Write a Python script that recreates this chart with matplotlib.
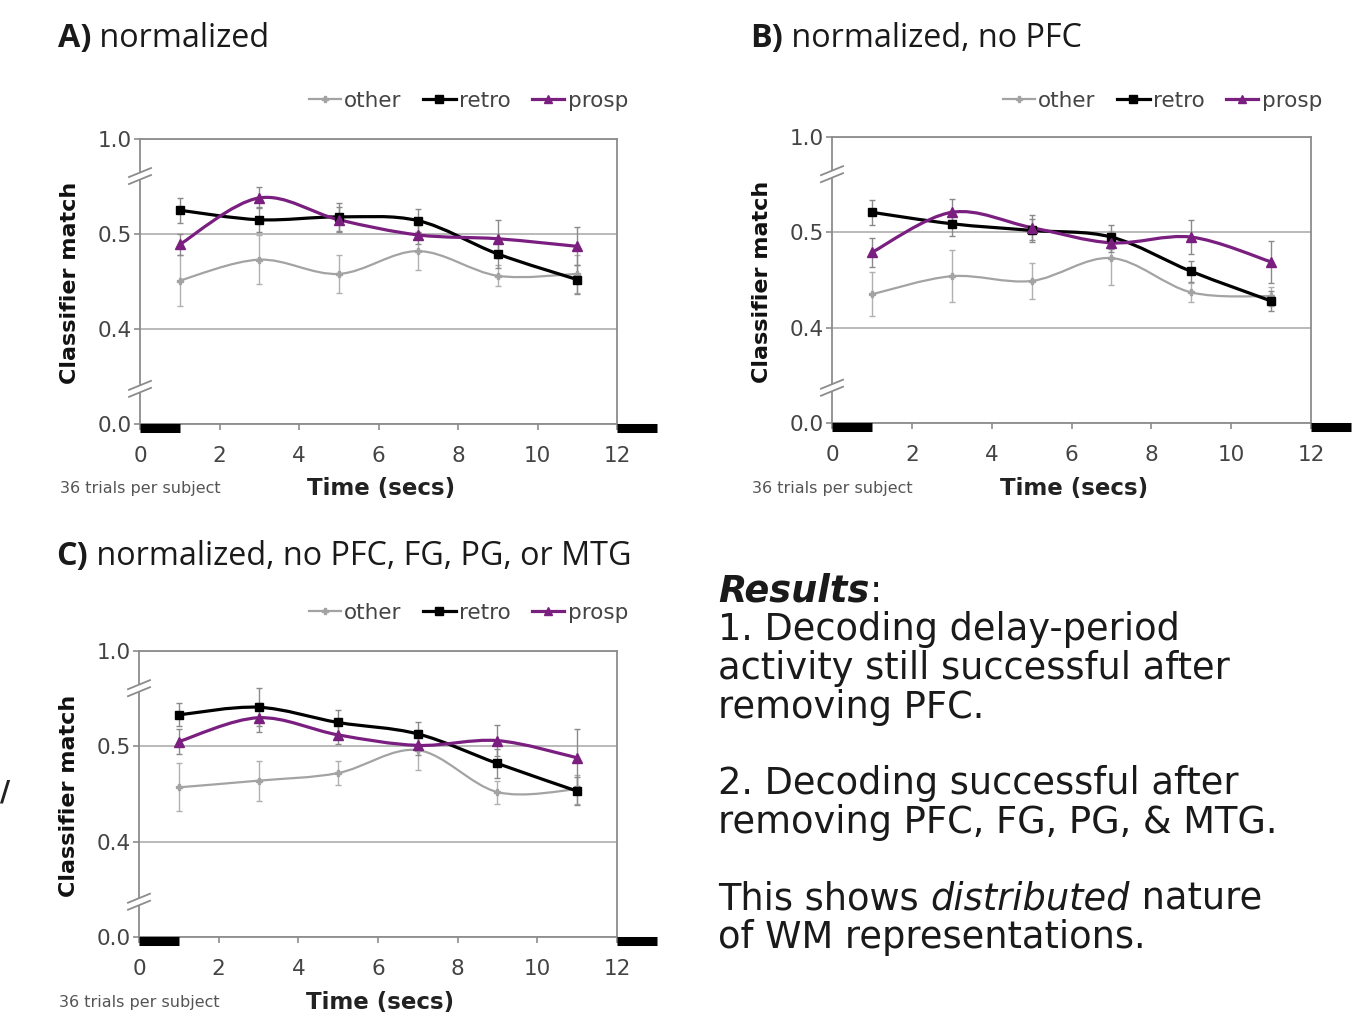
import numpy as np
import matplotlib
matplotlib.use("Agg")
import matplotlib.pyplot as plt
from matplotlib.path import Path
from matplotlib.patches import PathPatch, Polygon
from matplotlib.lines import Line2D

# ---------------- data ----------------
time_points = [1, 3, 5, 7, 9, 11]
series_names = ["other", "retro", "prosp"]

a_other = [0.451, 0.473, 0.458, 0.482, 0.456, 0.458]
a_other_err = [0.027, 0.026, 0.020, 0.020, 0.011, 0.020]
a_retro = [0.525, 0.515, 0.518, 0.514, 0.479, 0.452]
a_retro_err = [0.013, 0.013, 0.015, 0.012, 0.015, 0.015]
a_prosp = [0.489, 0.538, 0.515, 0.499, 0.495, 0.487]
a_prosp_err = [0.011, 0.011, 0.013, 0.010, 0.020, 0.020]

b_other = [0.435, 0.454, 0.449, 0.473, 0.437, 0.433]
b_other_err = [0.023, 0.027, 0.019, 0.028, 0.010, 0.010]
b_retro = [0.521, 0.509, 0.502, 0.495, 0.459, 0.428]
b_retro_err = [0.013, 0.013, 0.012, 0.013, 0.011, 0.010]
b_prosp = [0.479, 0.521, 0.505, 0.489, 0.495, 0.469]
b_prosp_err = [0.015, 0.014, 0.013, 0.010, 0.018, 0.022]

c_other = [0.457, 0.464, 0.472, 0.496, 0.452, 0.455]
c_other_err = [0.025, 0.021, 0.013, 0.021, 0.012, 0.015]
c_retro = [0.533, 0.541, 0.525, 0.513, 0.482, 0.453]
c_retro_err = [0.012, 0.020, 0.013, 0.012, 0.015, 0.015]
c_prosp = [0.505, 0.530, 0.512, 0.501, 0.506, 0.488]
c_prosp_err = [0.013, 0.015, 0.010, 0.010, 0.016, 0.030]

x_ticks = [0, 2, 4, 6, 8, 10, 12]
y_tick_pos = [0.3, 0.4, 0.5, 0.6]          # broken axis: bottom/top segments compressed
y_tick_labels = ["0.0", "0.4", "0.5", "1.0"]
y_breaks = [0.561, 0.337]
stim_bars = [(0, 1), (12, 13)]

panel_titles = [("A)", " normalized"),
                ("B)", " normalized, no PFC"),
                ("C)", " normalized, no PFC, FG, PG, or MTG")]

# ---------------- style ----------------
W, H = 1354, 1013
COL = {"other": "#a3a3a3", "retro": "#000000", "prosp": "#7a1f80"}
ERRC = {"other": "#b0b0b0", "retro": "#8a8a8a", "prosp": "#8a8a8a"}
MARK = {"other": "P", "retro": "s", "prosp": "^"}
MS = {"other": 4.5, "retro": 6.0, "prosp": 6.5}
LW = {"other": 1.6, "retro": 2.3, "prosp": 2.3}
TXT = "#444444"
TITLE_FONT = "Open Sans"
BODY_FONT = "DejaVu Sans"

fig = plt.figure(figsize=(W / 100, H / 100), dpi=100)
fig.patch.set_facecolor("white")


def px_axes(left, top, right, bottom):
    return fig.add_axes([left / W, 1 - bottom / H, (right - left) / W, (bottom - top) / H])


def smooth_path(xs, ys):
    """Catmull-Rom curve through the points expressed as cubic Bezier segments."""
    pts = np.column_stack([xs, ys]).astype(float)
    n = len(pts)
    verts = [pts[0]]
    codes = [Path.MOVETO]
    for i in range(n - 1):
        p0 = pts[i - 1] if i > 0 else pts[i]
        p1 = pts[i]
        p2 = pts[i + 1]
        p3 = pts[i + 2] if i + 2 < n else pts[i + 1]
        c1 = p1 + (p2 - p0) / 6.0
        c2 = p2 - (p3 - p1) / 6.0
        verts += [c1, c2, p2]
        codes += [Path.CURVE4] * 3
    return Path(verts, codes)


def draw_panel(ax, series, legend_offset_px, height_px):
    ax.set_xlim(0, 12)
    ax.set_ylim(0.3, 0.6)
    for sp in ax.spines.values():
        sp.set_color("#8c8c8c")
        sp.set_linewidth(1.3)
    ax.set_xticks(x_ticks)
    ax.set_yticks(y_tick_pos)
    ax.set_yticklabels(y_tick_labels)
    ax.tick_params(axis="x", direction="out", length=4, width=1.2, color="#8c8c8c",
                   labelsize=15.5, labelcolor=TXT, pad=12)
    ax.tick_params(axis="y", direction="out", length=4, width=1.2, color="#8c8c8c",
                   labelsize=15.5, labelcolor=TXT, pad=2)
    ax.grid(axis="y", color="#b4b4b4", linewidth=1.3)
    ax.set_axisbelow(True)

    for name in series_names:
        ys, es = series[name]
        ax.errorbar(time_points, ys, yerr=es, fmt="none", ecolor=ERRC[name],
                    elinewidth=1.0, capsize=2.5, capthick=1.0, zorder=3)
        ax.add_patch(PathPatch(smooth_path(time_points, ys), facecolor="none",
                               edgecolor=COL[name], linewidth=LW[name], zorder=4))
        ax.plot(time_points, ys, linestyle="none", marker=MARK[name], ms=MS[name],
                color=COL[name], mec=COL[name], zorder=5)

    # stimulus bars on the time axis
    for x0, x1 in stim_bars:
        ax.plot([x0, x1], [0.3 - 0.0045, 0.3 - 0.0045], color="black", lw=6.5,
                solid_capstyle="butt", clip_on=False, zorder=6)

    # axis break marks on the left spine
    ux = 12 / 477.0
    uy = 0.1 / 95.0
    for yb in y_breaks:
        dx, rise, gap = 11 * ux, 4.5 * uy, 3.5 * uy
        poly = Polygon([(-dx, yb - gap - rise), (dx, yb - gap + rise),
                        (dx, yb + gap + rise), (-dx, yb + gap - rise)],
                       closed=True, facecolor="white", edgecolor="none",
                       clip_on=False, zorder=6)
        ax.add_patch(poly)
        for s in (-gap, gap):
            ax.plot([-dx, dx], [yb + s - rise, yb + s + rise], color="#8c8c8c",
                    lw=1.3, clip_on=False, zorder=7)

    ax.set_ylabel("Classifier match", fontsize=16, fontweight="bold", color="#111111")
    ax.yaxis.set_label_coords(-0.147, 0.495)
    ax.yaxis.label.set_va("center")
    ax.set_xlabel("Time (secs)", fontsize=16.5, fontweight="bold", color="#222222")
    ax.xaxis.set_label_coords(0.505, -0.228)
    ax.xaxis.label.set_va("center")
    ax.text(-0.168, -0.228, "36 trials per subject", transform=ax.transAxes,
            ha="left", va="center", fontsize=11.5, color="#555555")

    handles = [Line2D([0], [0], color=COL[n], lw=LW[n], marker=MARK[n],
                      ms=MS[n] - 0.5, mec=COL[n]) for n in series_names]
    leg_y = 1 + legend_offset_px / height_px
    leg = ax.legend(handles, series_names, loc="center right", bbox_to_anchor=(1.023, leg_y),
                    ncol=3, frameon=False, fontsize=15.5, handlelength=1.5,
                    handletextpad=0.15, columnspacing=1.0, borderpad=0, borderaxespad=0)
    for t in leg.get_texts():
        t.set_color(TXT)


boxes = [(140, 139, 617, 424), (832, 137, 1311, 423), (139, 651, 617, 937)]
legend_rows = [101, 101, 613]
series_sets = [
    {"other": (a_other, a_other_err), "retro": (a_retro, a_retro_err), "prosp": (a_prosp, a_prosp_err)},
    {"other": (b_other, b_other_err), "retro": (b_retro, b_retro_err), "prosp": (b_prosp, b_prosp_err)},
    {"other": (c_other, c_other_err), "retro": (c_retro, c_retro_err), "prosp": (c_prosp, c_prosp_err)},
]
for box, ser, lr in zip(boxes, series_sets, legend_rows):
    ax = px_axes(*box)
    draw_panel(ax, ser, box[1] - lr, box[3] - box[1])

renderer = fig.canvas.get_renderer()


def text_width(s, **props):
    t = fig.text(0, 0, s, **props)
    w = t.get_window_extent(renderer).width
    t.remove()
    return w


def mixed_line(x, baseline, parts, size, family):
    """parts: list of (string, weight, style). Offsets measured with a sentinel glyph."""
    cur = x
    for s, wt, st in parts:
        props = dict(fontsize=size, family=family, fontweight=wt, fontstyle=st)
        fig.text(cur / W, 1 - baseline / H, s, ha="left", va="baseline", color="#1a1a1a", **props)
        cur += text_width(s + "x", **props) - text_width("x", **props)


# panel titles
title_pos = [(58, 47), (750, 47), (56, 565)]
for (lab, rest), (tx, ty) in zip(panel_titles, title_pos):
    mixed_line(tx, ty, [(lab, "bold", "normal"), (rest, "normal", "normal")], 23.3, TITLE_FONT)

# results text
res_size = 26.5
res_lines = [
    (602, [("Results", "bold", "italic"), (":", "normal", "normal")]),
    (640.5, [("1. Decoding delay-period", "normal", "normal")]),
    (679, [("activity still successful after", "normal", "normal")]),
    (717.5, [("removing PFC.", "normal", "normal")]),
    (794, [("2. Decoding successful after", "normal", "normal")]),
    (832.5, [("removing PFC, FG, PG, & MTG.", "normal", "normal")]),
    (909.5, [("This shows ", "normal", "normal"), ("distributed", "normal", "italic"),
             (" nature", "normal", "normal")]),
    (948, [("of WM representations.", "normal", "normal")]),
]
for base, parts in res_lines:
    mixed_line(718, base, parts, res_size, BODY_FONT)

# stray mark at left edge
fig.text(0 / W, 1 - 800 / H, "/", fontsize=20, fontweight="bold", color="#222222",
         ha="left", va="baseline")

fig.savefig("out.png", dpi=100, facecolor="white")
